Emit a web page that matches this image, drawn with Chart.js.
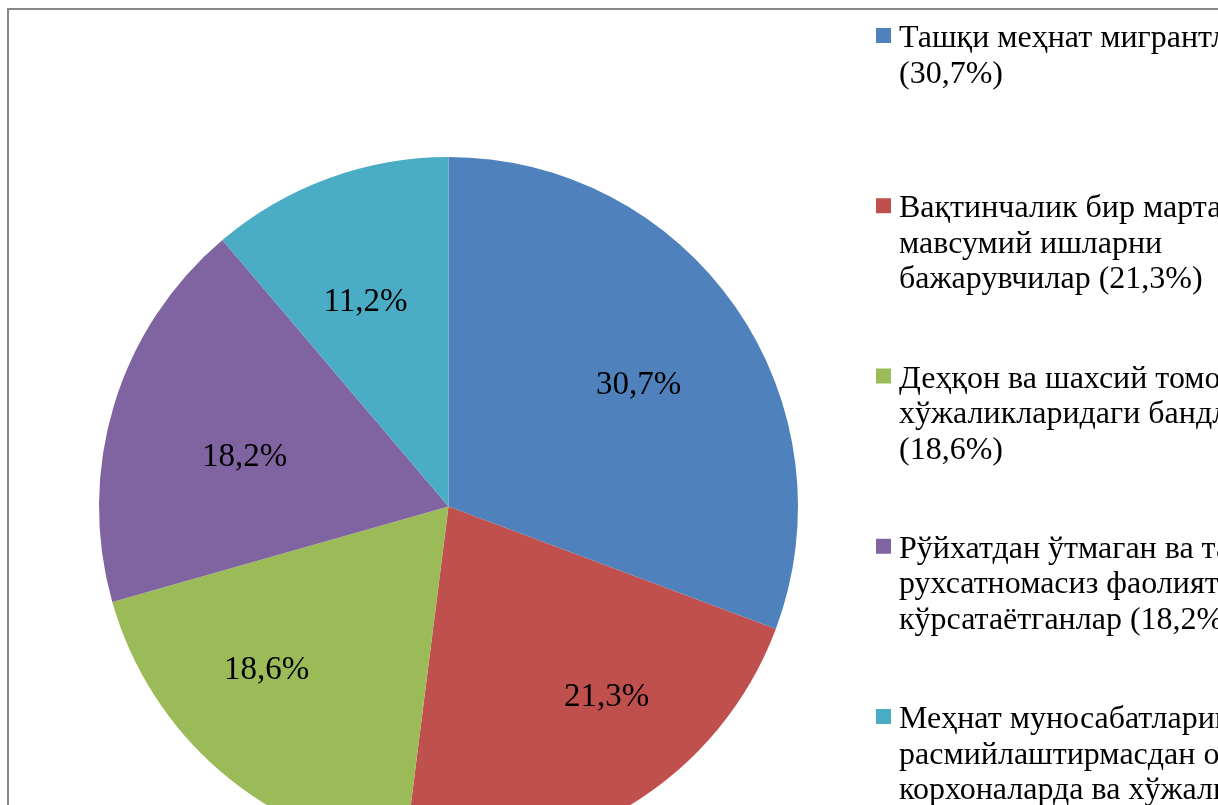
<!DOCTYPE html>
<html>
<head>
<meta charset="utf-8">
<script src="https://cdn.jsdelivr.net/npm/chart.js@4.4.1/dist/chart.umd.min.js"></script>
<style>
  html, body { margin: 0; padding: 0; background: #ffffff; overflow: hidden; width: 1218px; height: 805px; }
  #frame { position: absolute; left: 7px; top: 8px; width: 1400px; height: 1000px;
           border-top: 2px solid #878787; border-left: 2px solid #878787; box-sizing: border-box; }
  #c { position: absolute; left: 0; top: 0; }
</style>
</head>
<body>
<div id="frame"></div>
<canvas id="c" width="1218" height="900" style="width:1218px;height:900px"></canvas>
<script>
// ---- data ----
const categories = [
  ["Ташқи меҳнат мигрантлари", "(30,7%)"],
  ["Вақтинчалик бир марталик ва", "мавсумий ишларни", "бажарувчилар (21,3%)"],
  ["Деҳқон ва шахсий томорқа", "хўжаликларидаги бандлар", "(18,6%)"],
  ["Рўйхатдан ўтмаган ва тадбиркорлик", "рухсатномасиз фаолият", "кўрсатаётганлар (18,2%)"],
  ["Меҳнат муносабатларини", "расмийлаштирмасдан оилавий", "корхоналарда ва хўжаликларда", "ишлаётганлар (11,2%)"]
];
const shares = [30.7, 21.3, 18.6, 18.2, 11.2];
const sliceColors = ["#4F81BD", "#C0504D", "#9BBB59", "#8064A2", "#4BACC6"];

const serif = "'Liberation Serif', 'Times New Roman', 'DejaVu Serif', serif";

function fmt(v) { return v.toFixed(1).replace('.', ',') + '%'; }

// label anchor inside each slice: fraction along the slice's angle span, fraction of radius
const sliceLabels = {
  id: 'sliceLabels',
  afterDatasetsDraw(chart, args, opts) {
    const ctx = chart.ctx;
    const meta = chart.getDatasetMeta(0);
    const angFrac = opts.angleFraction || [];
    const radFrac = opts.radiusFraction || [];
    ctx.save();
    ctx.font = opts.font;
    ctx.fillStyle = opts.color;
    ctx.textAlign = "center";
    ctx.textBaseline = "middle";
    meta.data.forEach((arc, i) => {
      const a = arc.startAngle + (arc.endAngle - arc.startAngle) * (angFrac[i] ?? 0.5);
      const r = arc.outerRadius * (radFrac[i] ?? 0.66);
      const x = arc.x + Math.cos(a) * r;
      const y = arc.y + Math.sin(a) * r;
      ctx.fillText(fmt(chart.data.datasets[0].data[i]), x, y);
    });
    ctx.restore();
  }
};

const sideLegend = {
  id: 'sideLegend',
  afterDraw(chart, args, opts) {
    const ctx = chart.ctx;
    const labels = chart.data.labels;
    const colors = chart.data.datasets[0].backgroundColor;
    ctx.save();
    ctx.font = opts.font;
    ctx.textAlign = "left";
    ctx.textBaseline = "alphabetic";
    labels.forEach((lines, i) => {
      const base = opts.firstBaseline + i * opts.entryGap;
      ctx.fillStyle = colors[i];
      ctx.fillRect(opts.boxX, base - 19, opts.box, opts.box);
      ctx.fillStyle = opts.color;
      lines.forEach((ln, j) => ctx.fillText(ln, opts.textX, base + j * opts.lineHeight));
    });
    ctx.restore();
  }
};

new Chart(document.getElementById('c'), {
  type: 'pie',
  data: {
    labels: categories,
    datasets: [{
      data: shares,
      backgroundColor: sliceColors,
      borderWidth: 0,
      hoverOffset: 0
    }]
  },
  options: {
    responsive: false,
    animation: false,
    layout: { padding: { left: 99, top: 157, right: 420, bottom: 44 } },
    plugins: {
      legend: { display: false },
      tooltip: { enabled: false },
      sliceLabels: {
        font: "33px " + serif,
        color: "#000000",
        angleFraction: [0.52, 0.39, 0.61, 0.45, 0.45],
        radiusFraction: [0.645, 0.71, 0.70, 0.60, 0.63]
      },
      sideLegend: {
        font: "32px " + serif,
        color: "#000000",
        boxX: 876, box: 15, textX: 899,
        firstBaseline: 47, entryGap: 170.25, lineHeight: 35.5
      }
    }
  },
  plugins: [sliceLabels, sideLegend]
});
</script>
</body>
</html>
